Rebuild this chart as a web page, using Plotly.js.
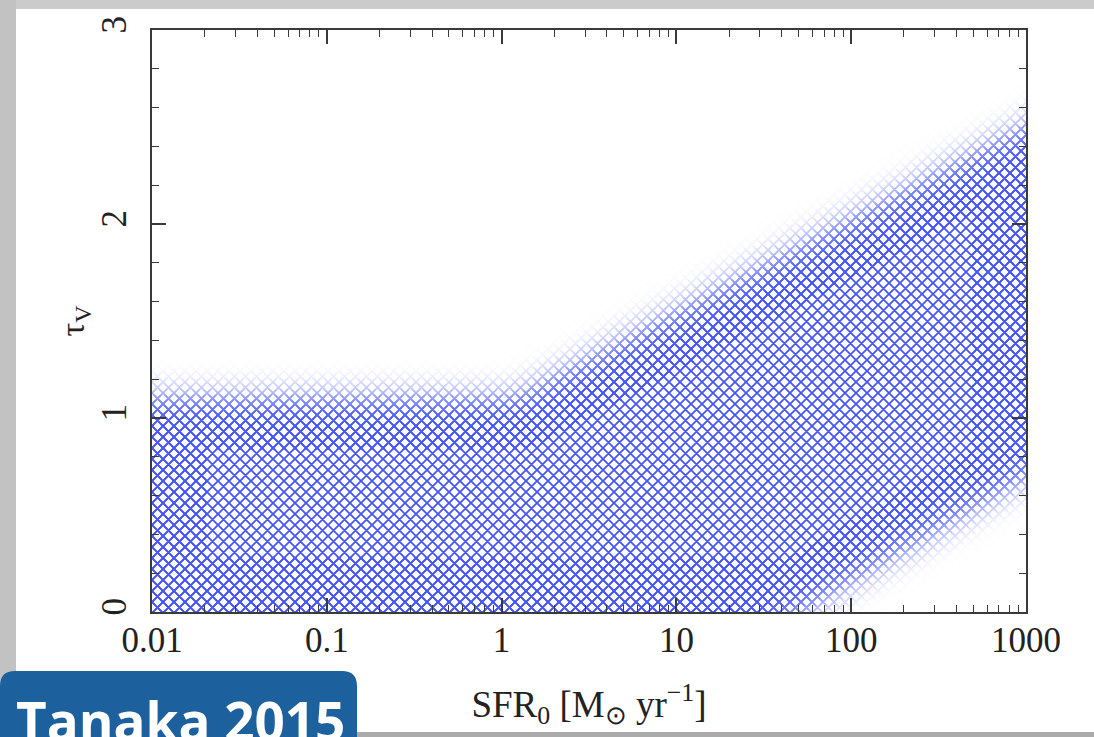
<!DOCTYPE html>
<html>
<head>
<meta charset="utf-8">
<script src="https://cdn.plot.ly/plotly-3.0.1.min.js"></script>
<style>
  html, body { margin: 0; padding: 0; background: #ffffff; }
  #chart { width: 1094px; height: 737px; }
</style>
</head>
<body>
<div id="chart"></div>
<script>
// Allowed region in the SFR_0 – tau_V plane (edges taken at the middle of the soft boundary)
const sfrUpper = [0.01, 1.2, 1000];
const tauUpper = [1.12, 1.12, 2.52];
const sfrLower = [0.01, 54, 1000];
const tauLower = [0, 0, 0.68];

// Axis labels
const xTickVals = [0.01, 0.1, 1, 10, 100, 1000];
const xTickText = ['0.01', '0.1', '1', '10', '100', '1000'];
const yTickVals = [0, 1, 2, 3];
const yTickText = ['0', '1', '2', '3'];

const badgeText = 'Tanaka 2015';

// Page geometry (pixels)
const W = 1094, H = 737;
const M = { l: 152, r: 68, t: 30, b: 125 };
const plotW = W - M.l - M.r, plotH = H - M.t - M.b;
const px2x = p => (p - M.l) / plotW;
const px2y = p => (H - M.b - p) / plotH;

const bandX = sfrUpper.concat(sfrLower.slice().reverse());
const bandY = tauUpper.concat(tauLower.slice().reverse());

// 'x' hatch whose repeat cell is a whole number of pixels, so it tiles cleanly
const hatchCell = 11;

const band = {
  type: 'scatter',
  x: bandX,
  y: bandY,
  mode: 'lines',
  fill: 'toself',
  line: { width: 0, color: 'rgba(0,0,0,0)' },
  fillcolor: 'rgba(0,0,0,0)',
  fillpattern: {
    shape: 'x',
    size: hatchCell / Math.SQRT2,
    solidity: 0.42,
    fgcolor: '#4857f4',
    bgcolor: 'rgba(255,255,255,0)',
    fillmode: 'replace'
  },
  hoverinfo: 'skip',
  showlegend: false
};

const axisInk = '#3a3a3a';
const tickFont = { family: 'Liberation Serif, serif', size: 35, color: '#222222' };

// Frame strips and the name badge (drawn in page pixels, converted to paper units)
function rect(x0, y0, x1, y1, color) {
  return { type: 'rect', xref: 'paper', yref: 'paper', x0: px2x(x0), x1: px2x(x1),
           y0: px2y(y1), y1: px2y(y0), fillcolor: color, line: { width: 0 }, layer: 'below' };
}
function roundedTop(x0, y0, x1, y1, r) {
  const X = px2x, Y = px2y;
  const d = `M${X(x0)},${Y(y1)} L${X(x0)},${Y(y0 + r)} Q${X(x0)},${Y(y0)} ${X(x0 + r)},${Y(y0)} ` +
            `L${X(x1 - r)},${Y(y0)} Q${X(x1)},${Y(y0)} ${X(x1)},${Y(y0 + r)} L${X(x1)},${Y(y1)} Z`;
  return { type: 'path', xref: 'paper', yref: 'paper', path: d, fillcolor: '#1c609e',
           line: { width: 0 }, layer: 'above' };
}

const layout = {
  width: W,
  height: H,
  margin: M,
  paper_bgcolor: '#ffffff',
  plot_bgcolor: '#ffffff',
  showlegend: false,
  xaxis: {
    type: 'log',
    range: [Math.log10(xTickVals[0]), Math.log10(xTickVals[xTickVals.length - 1])],
    tickmode: 'array',
    tickvals: xTickVals,
    ticktext: xTickText,
    ticks: 'inside',
    ticklen: 14,
    tickwidth: 1.5,
    tickcolor: axisInk,
    minor: { ticks: 'inside', ticklen: 7, tickwidth: 1.3, tickcolor: axisInk, dtick: 'D1', showgrid: false },
    showline: true,
    linecolor: axisInk,
    linewidth: 1.6,
    mirror: 'allticks',
    showgrid: false,
    zeroline: false,
    tickfont: tickFont,
    ticklabelstandoff: -4,
    title: {
      text: 'SFR<sub>0</sub> [M<sub>⊙</sub> yr<sup>−1</sup>]',
      font: { family: 'Liberation Serif, serif', size: 37, color: '#222222' },
      standoff: 32
    }
  },
  yaxis: {
    range: [yTickVals[0], yTickVals[yTickVals.length - 1]],
    tickmode: 'array',
    tickvals: yTickVals,
    ticktext: yTickText,
    tickangle: -90,
    ticks: 'inside',
    ticklen: 14,
    tickwidth: 1.5,
    tickcolor: axisInk,
    minor: { ticks: 'inside', ticklen: 7, tickwidth: 1.3, tickcolor: axisInk, dtick: 0.2, showgrid: false },
    showline: true,
    linecolor: axisInk,
    linewidth: 1.6,
    mirror: 'allticks',
    showgrid: false,
    zeroline: false,
    tickfont: tickFont,
    ticklabelstandoff: 10,
    title: {
      text: 'τ<sub>V</sub>',
      font: { family: 'Liberation Serif, serif', size: 34, color: '#222222' },
      standoff: 0
    }
  },
  shapes: [
    rect(0, 0, W, 9, '#cbcbcb'),
    rect(0, 0, 16, H, '#c2c2c2'),
    rect(357, 732, W, H + 5, '#ababab'),
    roundedTop(0, 671, 357, H + 20, 15)
  ],
  annotations: [{
    text: '<b>' + badgeText + '</b>',
    xref: 'paper', yref: 'paper',
    x: px2x(180), y: px2y(682),
    xanchor: 'center', yanchor: 'top',
    showarrow: false,
    font: { family: 'Open Sans, sans-serif', size: 53, color: '#ffffff' }
  }]
};

const gd = document.getElementById('chart');

// Soften the band edges: the hatch is extended a little past its outline and
// faded with a blurred copy of the outline (edges on the axis frame stay sharp).
function softenBand() {
  const fl = gd._fullLayout;
  const xa = fl.xaxis, ya = fl.yaxis;
  const w = xa._length, h = ya._length;
  const ext = 110;
  const toPx = (x, y) => [xa.l2p(Math.log10(x)), ya.l2p(y)];
  const up = sfrUpper.map((x, i) => toPx(x, tauUpper[i]));
  const lo = sfrLower.map((x, i) => toPx(x, tauLower[i]));

  const alongX = (p, q, tx) => { const t = (tx - p[0]) / (q[0] - p[0]); return [tx, p[1] + t * (q[1] - p[1])]; };
  const alongY = (p, q, ty) => { const t = (ty - p[1]) / (q[1] - p[1]); return [p[0] + t * (q[0] - p[0]), ty]; };

  up[0] = alongX(up[1], up[0], -ext);
  up[up.length - 1] = alongX(up[up.length - 2], up[up.length - 1], w + ext);
  lo[lo.length - 1] = alongX(lo[lo.length - 2], lo[lo.length - 1], w + ext);
  let k = 0;
  while (k + 1 < lo.length && lo[k + 1][1] >= h - 0.5) k++;
  if (k + 1 < lo.length && k > 0) lo[k] = alongY(lo[k + 1], lo[k], h + ext);
  lo[0] = [-ext, h + ext];

  const poly = up.concat(lo.slice().reverse());
  const d = 'M' + poly.map(p => p[0].toFixed(2) + ',' + p[1].toFixed(2)).join('L') + 'Z';

  const svg = gd.querySelector('svg.main-svg');
  const defs = svg.querySelector('defs');
  const NS = 'http://www.w3.org/2000/svg';

  const filt = document.createElementNS(NS, 'filter');
  filt.setAttribute('id', 'band-soft');
  filt.setAttribute('filterUnits', 'userSpaceOnUse');
  filt.setAttribute('x', -400); filt.setAttribute('y', -400);
  filt.setAttribute('width', w + 800); filt.setAttribute('height', h + 800);
  const blur = document.createElementNS(NS, 'feGaussianBlur');
  blur.setAttribute('stdDeviation', 15);
  filt.appendChild(blur);
  defs.appendChild(filt);

  const mask = document.createElementNS(NS, 'mask');
  mask.setAttribute('id', 'band-mask');
  mask.setAttribute('maskUnits', 'userSpaceOnUse');
  mask.setAttribute('x', -400); mask.setAttribute('y', -400);
  mask.setAttribute('width', w + 800); mask.setAttribute('height', h + 800);
  const mp = document.createElementNS(NS, 'path');
  mp.setAttribute('d', d);
  mp.setAttribute('fill', '#ffffff');
  mp.setAttribute('filter', 'url(#band-soft)');
  mask.appendChild(mp);
  defs.appendChild(mask);

  const fillPath = gd.querySelector('.scatterlayer .trace .js-fill');
  if (fillPath) {
    const f = fillPath.style.fill;
    fillPath.style.stroke = f;
    fillPath.style.strokeWidth = '110px';
    fillPath.style.strokeLinejoin = 'round';
    fillPath.style.strokeOpacity = 1;
    fillPath.setAttribute('mask', 'url(#band-mask)');
  }
}

Plotly.newPlot(gd, [band], layout, { displayModeBar: false }).then(softenBand);
</script>
</body>
</html>
